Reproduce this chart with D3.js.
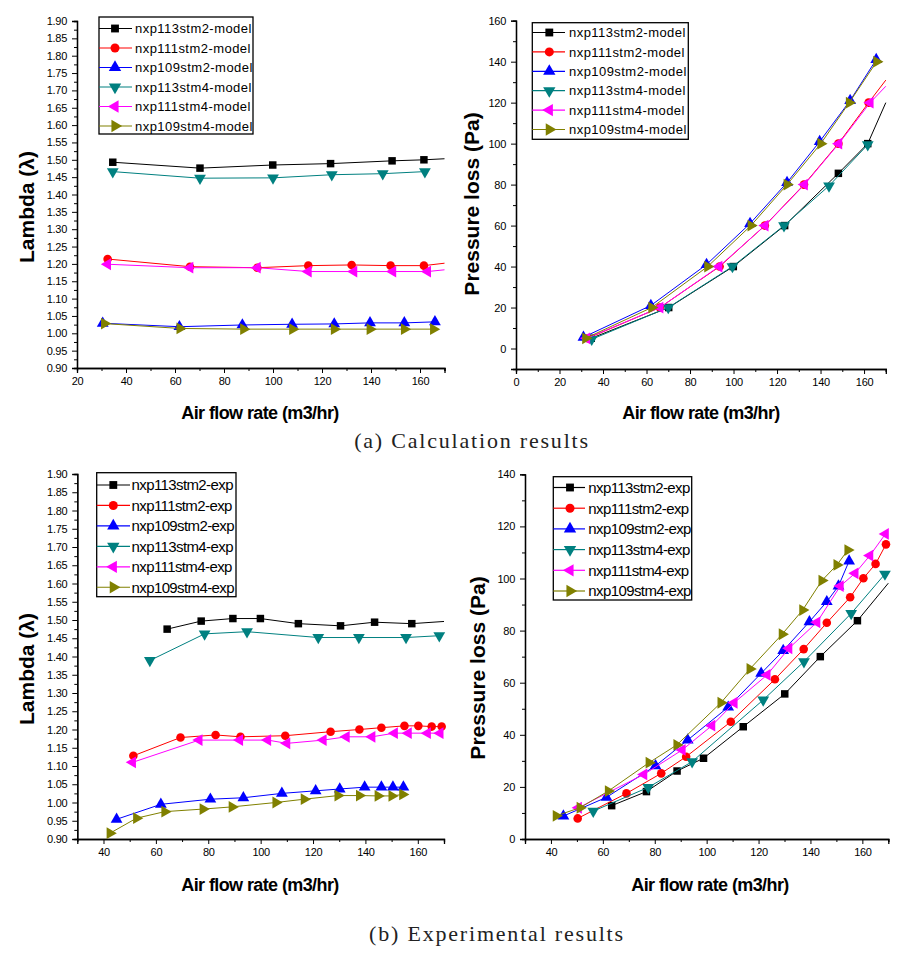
<!DOCTYPE html>
<html>
<head>
<meta charset="utf-8">
<script src="https://cdn.jsdelivr.net/npm/d3@7"></script>
<style>
  html, body { margin: 0; padding: 0; background: #ffffff; }
  svg { display: block; }
</style>
</head>
<body>
<svg id="chart" width="912" height="954"></svg>
<script>
// ---------------- DATA ----------------
const seriesIds = ["nxp113stm2", "nxp111stm2", "nxp109stm2", "nxp113stm4", "nxp111stm4", "nxp109stm4"];
const modelSuffix = "-model";
const expSuffix = "-exp";

const lambdaTicks = [0.90, 0.95, 1.00, 1.05, 1.10, 1.15, 1.20, 1.25, 1.30, 1.35, 1.40, 1.45, 1.50, 1.55, 1.60, 1.65, 1.70, 1.75, 1.80, 1.85, 1.90];
const calcFlowTicks = [20, 40, 60, 80, 100, 120, 140, 160];
const calcPressTicks = [0, 20, 40, 60, 80, 100, 120, 140, 160];
const calcPressFlowTicks = [0, 20, 40, 60, 80, 100, 120, 140, 160];
const expFlowTicks = [40, 60, 80, 100, 120, 140, 160];
const expPressTicks = [0, 20, 40, 60, 80, 100, 120, 140];

// (a) calculation: lambda vs air flow
const calcLambda = [
  [[34.6, 1.493], [70.2, 1.476], [99.9, 1.485], [123.5, 1.489], [148.6, 1.497], [161.6, 1.500]],
  [[32.5, 1.214], [66.1, 1.192], [93.6, 1.189], [114.4, 1.195], [132.1, 1.197], [148.0, 1.195], [161.6, 1.195]],
  [[30.5, 1.029], [61.8, 1.019], [87.5, 1.024], [107.8, 1.026], [125.0, 1.027], [139.6, 1.030], [153.6, 1.030], [166.1, 1.033]],
  [[34.6, 1.466], [70.2, 1.447], [100.0, 1.448], [124.0, 1.457], [144.8, 1.460], [162.0, 1.466]],
  [[32.5, 1.199], [66.1, 1.189], [93.6, 1.189], [114.4, 1.178], [133.0, 1.178], [148.9, 1.178], [163.1, 1.178]],
  [[31.2, 1.028], [62.0, 1.014], [88.0, 1.012], [108.0, 1.012], [125.0, 1.012], [139.6, 1.012], [153.6, 1.012], [165.5, 1.012]]
];
const calcLambdaTail = [[170, 1.503], [170, 1.202], null, null, [170, 1.183], null];

// (a) calculation: pressure loss vs air flow
const calcPress = [
  [[34.6, 5], [70.2, 20], [99.9, 40], [123.5, 60], [148.2, 85.5], [161.7, 100]],
  [[33.0, 5], [66.1, 20], [93.6, 40], [114.4, 60], [132.4, 80], [148.2, 100], [162.1, 120]],
  [[31.0, 5.5], [62.0, 21], [87.6, 41], [107.6, 61], [124.6, 81], [139.6, 101], [153.6, 121], [165.6, 141]],
  [[34.8, 4.5], [70.0, 20], [99.5, 40], [123.2, 60], [143.9, 79.4], [161.7, 99.5]],
  [[32.5, 5], [66.2, 20], [93.3, 40], [114.5, 60], [132.6, 80], [148.4, 100], [162.8, 120]],
  [[32.0, 5], [62.4, 20], [88.1, 40], [108.0, 60], [124.6, 80], [140.1, 100], [153.2, 120], [165.8, 140]]
];
const calcPressTail = [[170, 120], [170, 131], null, null, [170, 128], null];

// (b) experimental: lambda vs air flow
const expLambda = [
  [[64.3, 1.475], [77.3, 1.497], [89.4, 1.504], [99.9, 1.504], [114.4, 1.490], [130.5, 1.484], [143.5, 1.494], [157.7, 1.490]],
  [[51.4, 1.128], [69.4, 1.178], [82.8, 1.185], [92.3, 1.180], [109.4, 1.183], [126.7, 1.194], [137.7, 1.200], [146.1, 1.205], [154.9, 1.210], [160.2, 1.210], [165.3, 1.208], [169.1, 1.208]],
  [[45.0, 0.954], [61.9, 0.995], [80.8, 1.009], [93.4, 1.013], [108.1, 1.025], [121.0, 1.032], [130.2, 1.037], [139.7, 1.042], [146.1, 1.042], [150.5, 1.042], [154.5, 1.042]],
  [[57.7, 1.389], [78.6, 1.462], [94.8, 1.468], [122.0, 1.452], [137.5, 1.452], [155.5, 1.452], [168.2, 1.457]],
  [[51.1, 1.110], [76.5, 1.171], [92.0, 1.171], [102.7, 1.171], [110.0, 1.162], [123.9, 1.171], [132.7, 1.180], [142.5, 1.180], [151.1, 1.190], [156.4, 1.190], [163.7, 1.190], [168.5, 1.190]],
  [[42.5, 0.916], [52.6, 0.957], [63.4, 0.975], [78.0, 0.982], [89.1, 0.988], [105.8, 1.000], [116.6, 1.009], [129.5, 1.019], [137.7, 1.019], [144.8, 1.018], [150.1, 1.018], [154.2, 1.022]]
];
const expLambdaTail = [[170, 1.496], null, null, null, null, null];

// (b) experimental: pressure loss vs air flow
const expPress = [
  [[63.4, 12.8], [76.8, 18.2], [88.6, 26.1], [98.8, 31.0], [114.1, 43.1], [130.1, 55.7], [143.8, 70.0], [158.1, 83.8]],
  [[50.3, 7.9], [69.1, 17.5], [82.5, 25.2], [92.1, 31.6], [109.3, 45.0], [126.3, 61.3], [137.4, 72.9], [146.3, 83.0], [155.3, 92.8], [160.4, 100.1], [165.1, 105.6], [169.1, 113.1]],
  [[44.8, 8.8], [61.4, 16.0], [80.3, 28.1], [92.7, 38.0], [108.3, 50.6], [121.0, 63.6], [129.5, 72.3], [139.6, 83.4], [146.3, 91.1], [150.8, 97.1], [154.9, 106.7]],
  [[56.3, 10.7], [77.5, 19.8], [94.4, 29.7], [121.8, 53.4], [137.5, 68.1], [155.7, 86.6], [168.7, 101.7]],
  [[50.6, 12.0], [75.8, 24.8], [90.6, 34.2], [102.0, 43.5], [110.6, 52.3], [123.3, 63.0], [131.7, 73.2], [142.5, 83.2], [151.5, 97.1], [157.2, 102.0], [162.9, 108.8], [168.9, 117.1]],
  [[42.0, 8.9], [51.2, 12.0], [62.1, 18.4], [77.8, 29.3], [88.5, 36.1], [105.5, 52.3], [116.7, 65.3], [129.1, 78.6], [137.0, 87.9], [144.4, 99.2], [150.2, 105.2], [154.4, 110.9]]
];
const expPressTail = [[170, 98.2], null, null, null, null, null];

const xTitle = "Air flow rate (m3/hr)";
const yTitleLambda = "Lambda (\u03BB)";
const yTitlePress = "Pressure loss (Pa)";
const captionA = "(a) Calculation results";
const captionB = "(b) Experimental results";

// ---------------- STYLE ----------------
const colors = ["#000000", "#ff0000", "#0000ff", "#008080", "#ff00ff", "#808000"];
const markerShapes = [
  { type: d3.symbolSquare, rot: 0, size: 56 },
  { type: d3.symbolCircle, rot: 0, size: 58 },
  { type: d3.symbolTriangle, rot: 0, size: 60 },
  { type: d3.symbolTriangle, rot: 180, size: 60 },
  { type: d3.symbolTriangle, rot: -90, size: 60 },
  { type: d3.symbolTriangle, rot: 90, size: 60 }
];
const FONT = "'Liberation Sans', Arial, Helvetica, sans-serif";

const svg = d3.select("#chart");

function drawPanel(cfg) {
  const g = svg.append("g");
  const x = d3.scaleLinear().domain(cfg.xDomain).range(cfg.xRange);
  const y = d3.scaleLinear().domain(cfg.yDomain).range(cfg.yRange);

  const xAxis = d3.axisBottom(x).tickValues(cfg.xTicks).tickSize(5).tickPadding(4)
    .tickFormat(d3.format("d"));
  const xMinor = d3.axisBottom(x).tickValues(d3.range(cfg.xDomain[0] + cfg.xMinorStep, cfg.xDomain[1] + 0.001, cfg.xMinorStep)
      .filter(v => !cfg.xTicks.some(t => Math.abs(t - v) < 1e-6))).tickSize(3).tickFormat("");
  const yAxis = d3.axisLeft(y).tickValues(cfg.yTicks).tickSize(5).tickPadding(5)
    .tickFormat(cfg.yFormat);
  const yMinorVals = d3.range(0, Math.round((cfg.yDomain[1] - cfg.yDomain[0]) / cfg.yMinorStep) + 1)
    .map(i => +(cfg.yDomain[0] + i * cfg.yMinorStep).toFixed(4))
    .filter(v => !cfg.yTicks.some(t => Math.abs(t - v) < 1e-6));
  const yMinor = d3.axisLeft(y).tickValues(yMinorVals).tickSize(3).tickFormat("");

  const base = cfg.yRange[0];
  const left = cfg.xRange[0];

  function styleAxis(sel) {
    sel.selectAll("path").attr("stroke", "#000").attr("stroke-width", 1.3);
    sel.selectAll("line").attr("stroke", "#000").attr("stroke-width", 1);
    sel.selectAll("text").attr("font-family", FONT).attr("font-size", 11)
      .attr("letter-spacing", "-0.3px").attr("fill", "#000");
  }
  g.append("g").attr("transform", `translate(0,${base})`).call(xMinor).call(styleAxis);
  g.append("g").attr("transform", `translate(0,${base})`).call(xAxis).call(styleAxis);
  g.append("g").attr("transform", `translate(${left},0)`).call(yMinor).call(styleAxis);
  g.append("g").attr("transform", `translate(${left},0)`).call(yAxis).call(styleAxis);

  const line = d3.line().x(d => x(d[0])).y(d => y(d[1]));
  cfg.data.forEach((pts, i) => {
    const linePts = cfg.tails[i] ? pts.concat([cfg.tails[i]]) : pts;
    g.append("path").datum(linePts).attr("d", line)
      .attr("fill", "none").attr("stroke", colors[i]).attr("stroke-width", 1);
    const m = markerShapes[i];
    g.append("g").selectAll("path").data(pts).join("path")
      .attr("d", d3.symbol().type(m.type).size(m.size))
      .attr("transform", d => `translate(${x(d[0])},${y(d[1])}) rotate(${m.rot})`)
      .attr("fill", colors[i]);
  });

  const L = cfg.legend;
  g.append("rect").attr("x", L.x).attr("y", L.y).attr("width", L.w).attr("height", L.h)
    .attr("fill", "#fff").attr("stroke", "#000").attr("stroke-width", 1.3);
  seriesIds.forEach((id, i) => {
    const ry = L.row0 + i * L.step;
    g.append("line").attr("x1", L.lx1).attr("x2", L.lx2).attr("y1", ry).attr("y2", ry)
      .attr("stroke", colors[i]).attr("stroke-width", 1.2);
    const m = markerShapes[i];
    g.append("path").attr("d", d3.symbol().type(m.type).size(m.size * 1.1)())
      .attr("transform", `translate(${L.mx},${ry}) rotate(${m.rot})`).attr("fill", colors[i]);
    g.append("text").attr("x", L.tx).attr("y", ry).attr("dy", "0.36em")
      .attr("font-family", FONT).attr("font-size", L.fs).attr("letter-spacing", L.ls)
      .attr("fill", "#000").text(id + cfg.suffix);
  });

  g.append("text").attr("transform", `translate(${cfg.yTitlePos[0]},${cfg.yTitlePos[1]}) rotate(-90)`)
    .attr("text-anchor", "middle").attr("dy", "0.35em")
    .attr("font-family", FONT).attr("font-weight", "bold").attr("font-size", cfg.yTitleSize)
    .attr("fill", "#000").text(cfg.yTitle);
  g.append("text").attr("x", cfg.xTitlePos[0]).attr("y", cfg.xTitlePos[1])
    .attr("text-anchor", "middle").attr("dy", "0.35em")
    .attr("font-family", FONT).attr("font-weight", "bold").attr("font-size", 18)
    .attr("letter-spacing", "-0.6px").attr("fill", "#000").text(xTitle);
}

const fmt2 = d3.format(".2f");
const fmtD = d3.format("d");

drawPanel({
  xDomain: [20, 170], xRange: [77, 444.5], xTicks: calcFlowTicks, xMinorStep: 10,
  yDomain: [0.9, 1.9], yRange: [368, 21], yTicks: lambdaTicks, yMinorStep: 0.025, yFormat: fmt2,
  data: calcLambda, tails: calcLambdaTail, suffix: modelSuffix,
  legend: { x: 99, y: 17, w: 154, h: 117, row0: 28.5, step: 19.5, lx1: 99, lx2: 132, mx: 115, tx: 135, fs: 13, ls: "0.45px" },
  yTitle: yTitleLambda, yTitlePos: [27, 207], yTitleSize: 21, xTitlePos: [260, 413]
});

drawPanel({
  xDomain: [0, 170], xRange: [516, 885.8], xTicks: calcPressFlowTicks, xMinorStep: 10,
  yDomain: [-10, 160], yRange: [369, 20.7], yTicks: calcPressTicks, yMinorStep: 10, yFormat: fmtD,
  data: calcPress, tails: calcPressTail, suffix: modelSuffix,
  legend: { x: 532.3, y: 22.7, w: 156, h: 116.6, row0: 32.5, step: 19.4, lx1: 532.3, lx2: 565, mx: 549.3, tx: 569, fs: 13, ls: "0.45px" },
  yTitle: yTitlePress, yTitlePos: [471.5, 204], yTitleSize: 21, xTitlePos: [701, 413]
});

drawPanel({
  xDomain: [30, 170], xRange: [77.3, 444], xTicks: expFlowTicks, xMinorStep: 10,
  yDomain: [0.9, 1.9], yRange: [839, 474], yTicks: lambdaTicks, yMinorStep: 0.025, yFormat: fmt2,
  data: expLambda, tails: expLambdaTail, suffix: expSuffix,
  legend: { x: 96.7, y: 472.7, w: 139.3, h: 124, row0: 485, step: 20.45, lx1: 96.7, lx2: 130, mx: 113.3, tx: 131.5, fs: 15, ls: "-0.6px" },
  yTitle: yTitleLambda, yTitlePos: [27, 669], yTitleSize: 21, xTitlePos: [260, 885]
});

drawPanel({
  xDomain: [30, 170], xRange: [525, 888.3], xTicks: expFlowTicks, xMinorStep: 10,
  yDomain: [0, 140], yRange: [839, 474.3], yTicks: expPressTicks, yMinorStep: 10, yFormat: fmtD,
  data: expPress, tails: expPressTail, suffix: expSuffix,
  legend: { x: 553.3, y: 476.7, w: 138.4, h: 123.3, row0: 487.5, step: 20.7, lx1: 553.3, lx2: 585, mx: 570, tx: 588.3, fs: 15, ls: "-0.6px" },
  yTitle: yTitlePress, yTitlePos: [477.7, 668], yTitleSize: 21, xTitlePos: [710, 885]
});

svg.append("text").attr("x", 472).attr("y", 440).attr("dy", "0.35em").attr("text-anchor", "middle")
  .attr("font-family", "'Liberation Serif', 'Times New Roman', serif").attr("font-size", 22)
  .attr("letter-spacing", "1.8px").attr("fill", "#222").text(captionA);
svg.append("text").attr("x", 497).attr("y", 933).attr("dy", "0.35em").attr("text-anchor", "middle")
  .attr("font-family", "'Liberation Serif', 'Times New Roman', serif").attr("font-size", 22)
  .attr("letter-spacing", "1.8px").attr("fill", "#222").text(captionB);
</script>
</body>
</html>
